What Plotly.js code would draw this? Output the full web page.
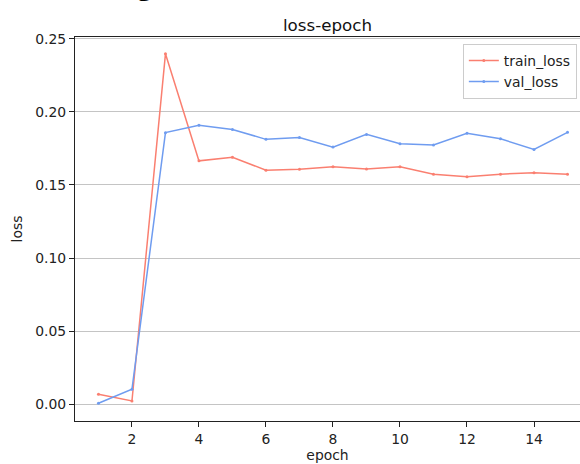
<!DOCTYPE html>
<html>
<head>
<meta charset="utf-8">
<script src="https://cdn.plot.ly/plotly-3.0.1.min.js"></script>
<style>html,body{margin:0;padding:0;background:#fff;}#chart{width:580px;height:464px;}</style>
</head>
<body>
<div id="chart"></div>
<script>
const epochs = [1, 2, 3, 4, 5, 6, 7, 8, 9, 10, 11, 12, 13, 14, 15];
const trainLoss = [0.0069, 0.0023, 0.2397, 0.1665, 0.1690, 0.1601, 0.1608, 0.1624, 0.1610, 0.1624, 0.1574, 0.1557, 0.1574, 0.1583, 0.1574];
const valLoss = [0.0007, 0.0103, 0.1858, 0.1908, 0.1880, 0.1812, 0.1824, 0.1759, 0.1846, 0.1782, 0.1773, 0.1853, 0.1816, 0.1743, 0.1860];
const yTicks = [0.00, 0.05, 0.10, 0.15, 0.20, 0.25];
const xTicks = [2, 4, 6, 8, 10, 12, 14];
const seriesNames = ["train_loss", "val_loss"];

const font = "DejaVu Sans, sans-serif";
const traces = [
  {x: epochs, y: trainLoss, name: seriesNames[0], mode: "lines+markers",
   line: {color: "#fa7f70", width: 1.5}, marker: {size: 3, color: "#fa7f70"}},
  {x: epochs, y: valLoss, name: seriesNames[1], mode: "lines+markers",
   line: {color: "#6f9cf0", width: 1.5}, marker: {size: 3, color: "#6f9cf0"}}
];
const layout = {
  width: 580, height: 464,
  margin: {l: 75, r: 0, t: 37.3, b: 43.3, pad: 0},
  paper_bgcolor: "#fff", plot_bgcolor: "#fff",
  font: {family: font, size: 13.9, color: "#222"},
  title: {text: "loss-epoch", font: {family: font, size: 16.7, color: "#111"},
          x: 0.5, xref: "paper", xanchor: "center", y: 1, yref: "paper", yanchor: "bottom", pad: {b: 6}},
  xaxis: {range: [0.3, 15.373], tickvals: xTicks, ticktext: xTicks.map(String),
          showgrid: false, zeroline: false, showline: true, linecolor: "#222", linewidth: 1,
          mirror: true, ticks: "outside", ticklen: 5, tickcolor: "#222",
          tickfont: {family: font, size: 13.9, color: "#222"},
          title: {text: "epoch", font: {family: font, size: 13.9, color: "#222"}, standoff: 4}},
  yaxis: {range: [-0.0114, 0.2512], tickvals: yTicks, ticktext: yTicks.map(v => v.toFixed(2)),
          showgrid: true, gridcolor: "#c4c4c4", gridwidth: 1, zeroline: false,
          showline: true, linecolor: "#222", linewidth: 1, ticks: "outside", ticklen: 5, tickcolor: "#222",
          tickfont: {family: font, size: 13.9, color: "#222"},
          title: {text: "loss", font: {family: font, size: 13.9, color: "#222"}, standoff: 9}},
  showlegend: true,
  legend: {x: 0.768, y: 0.982, xanchor: "left", yanchor: "top", bgcolor: "rgba(255,255,255,0.9)",
           bordercolor: "#cccccc", borderwidth: 1, font: {family: font, size: 13.9, color: "#222"},
           tracegroupgap: 0, itemwidth: 30},
  annotations: [{text: "<b>g</b>", xref: "paper", yref: "paper", x: 0.1386, y: 1.1364,
                 xanchor: "center", yanchor: "middle", showarrow: false,
                 font: {family: "Liberation Serif, serif", size: 30, color: "#000"}}]
};
Plotly.newPlot("chart", traces, layout, {displayModeBar: false, staticPlot: true});
</script>
</body>
</html>
